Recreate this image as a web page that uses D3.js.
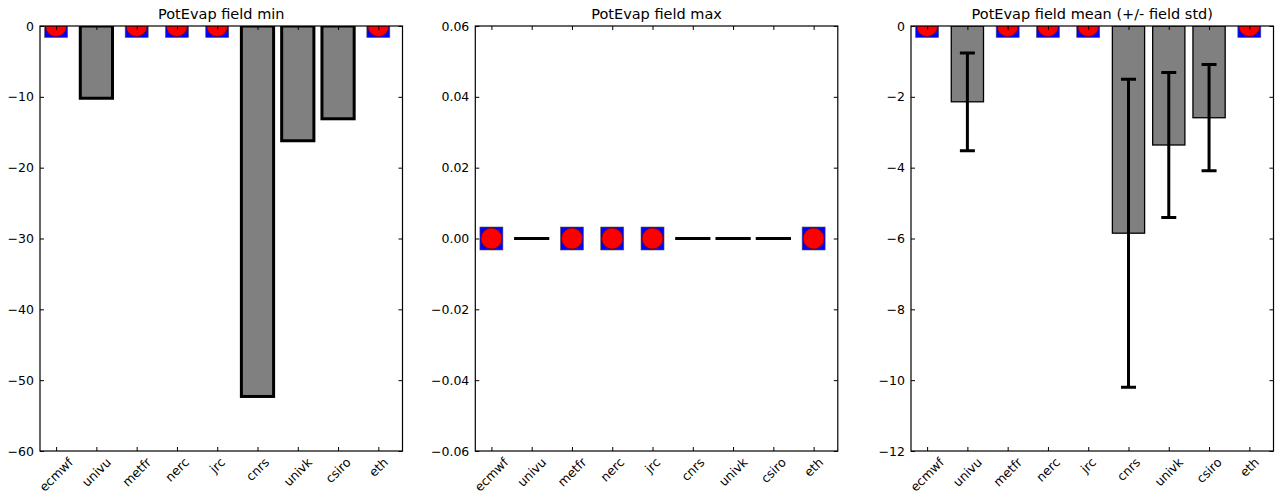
<!DOCTYPE html>
<meta charset="utf-8">
<title>PotEvap field stats</title>
<style>
	body {
		margin: 0;
		background: #fff;
		font-family: 'DejaVu Sans', sans-serif;
	}
	svg text {
		font-family: 'DejaVu Sans', sans-serif;
		font-size: 12.5px;
		fill: #000;
	}
	svg text.title {
		font-size: 14.5px;
	}
</style>
<body>
<div id="chart"></div>
<script src="https://cdn.jsdelivr.net/npm/d3@7"></script>
<script>
// model names on the x axis
var models = ["ecmwf", "univu", "metfr", "nerc", "jrc", "cnrs", "univk", "csiro", "eth"];

// values per model (null = no data, drawn as a marker at 0)
var fieldMin = [null, -10.2, null, null, null, -52.3, -16.2, -13.1, null];
var fieldMax = [null, 0, null, null, null, 0, 0, 0, null];
var fieldMean = [null, -2.14, null, null, null, -5.85, -3.36, -2.59, null];
var fieldStd = [null, 1.38, null, null, null, 4.35, 2.05, 1.5, null];

// y ticks of each panel
var minTicks = [0, -10, -20, -30, -40, -50, -60];
var maxTicks = [0.06, 0.04, 0.02, 0.00, -0.02, -0.04, -0.06];
var meanTicks = [0, -2, -4, -6, -8, -10, -12];

var W = 1276, H = 497;
var plotTop = 26, plotBottom = 451, pw = 362.5;

var svg = d3.select("#chart").append("svg")
	.attr("width", W)
	.attr("height", H);

var panels = [
	{ left: 40, title: "PotEvap field min", values: fieldMin, ticks: minTicks, fmt: d3.format("d"), edge: 3 },
	{ left: 475.3, title: "PotEvap field max", values: fieldMax, ticks: maxTicks, fmt: d3.format(".2f"), edge: 3 },
	{ left: 911, title: "PotEvap field mean (+/- field std)", values: fieldMean, err: fieldStd, ticks: meanTicks, fmt: d3.format("d"), edge: 1.3 }
];

panels.forEach(function (p, k) {
	var x = d3.scaleBand()
		.domain(models)
		.range([p.left, p.left + pw])
		.paddingInner(0.2)
		.paddingOuter(0.1)
		.align(0);

	var y = d3.scaleLinear()
		.domain([d3.max(p.ticks), d3.min(p.ticks)])
		.range([plotTop, plotBottom]);

	var g = svg.append("g");

	// clip to the axes box
	g.append("clipPath").attr("id", "clip" + k)
		.append("rect")
		.attr("x", p.left).attr("y", plotTop)
		.attr("width", pw).attr("height", plotBottom - plotTop);

	var plot = g.append("g").attr("clip-path", "url(#clip" + k + ")");

	var rows = models.map(function (m, i) {
		return { name: m, v: p.values[i], s: p.err ? p.err[i] : null };
	});

	// bars (a zero-height rect is not drawn by svg, so keep a hair of height)
	plot.selectAll(".bar")
		.data(rows.filter(function (d) { return d.v !== null; }))
		.enter().append("rect")
		.attr("class", "bar")
		.attr("x", function (d) { return x(d.name); })
		.attr("y", function (d) { return Math.min(y(0), y(d.v)); })
		.attr("width", x.bandwidth())
		.attr("height", function (d) { return Math.max(0.01, Math.abs(y(d.v) - y(0))); })
		.attr("fill", "#808080")
		.attr("stroke", "#000")
		.attr("stroke-width", p.edge);

	// error bars
	if (p.err) {
		var eb = plot.selectAll(".err")
			.data(rows.filter(function (d) { return d.s !== null; }))
			.enter().append("g")
			.attr("class", "err")
			.attr("stroke", "#000")
			.attr("stroke-width", 3);
		eb.append("line")
			.attr("x1", function (d) { return x(d.name) + x.bandwidth() / 2; })
			.attr("x2", function (d) { return x(d.name) + x.bandwidth() / 2; })
			.attr("y1", function (d) { return y(d.v + d.s); })
			.attr("y2", function (d) { return y(d.v - d.s); });
		[1, -1].forEach(function (sg) {
			eb.append("line")
				.attr("x1", function (d) { return x(d.name) + x.bandwidth() / 2 - 7.5; })
				.attr("x2", function (d) { return x(d.name) + x.bandwidth() / 2 + 7.5; })
				.attr("y1", function (d) { return y(d.v + sg * d.s); })
				.attr("y2", function (d) { return y(d.v + sg * d.s); });
		});
	}

	// markers for missing data
	var miss = plot.selectAll(".miss")
		.data(rows.filter(function (d) { return d.v === null; }))
		.enter().append("g")
		.attr("class", "miss")
		.attr("transform", function (d) {
			return "translate(" + (x(d.name) + x.bandwidth() / 2) + "," + y(0) + ")";
		});
	miss.append("rect")
		.attr("x", -11.5).attr("y", -11.5)
		.attr("width", 23).attr("height", 23)
		.attr("fill", "#0000ff")
		.attr("stroke", "#555")
		.attr("stroke-width", 0.6);
	miss.append("circle")
		.attr("r", 10.5)
		.attr("fill", "#ff0000")
		.attr("stroke", "#600")
		.attr("stroke-width", 0.6);

	// axes, ticks pointing inward
	var yl = g.append("g")
		.attr("transform", "translate(" + p.left + ",0)")
		.call(d3.axisLeft(y).tickValues(p.ticks).tickFormat(p.fmt).tickSizeInner(-4).tickSizeOuter(0).tickPadding(6));
	var yr = g.append("g")
		.attr("transform", "translate(" + (p.left + pw) + ",0)")
		.call(d3.axisRight(y).tickValues(p.ticks).tickFormat("").tickSizeInner(-4).tickSizeOuter(0));
	var xc = d3.scalePoint().domain(models).range([x(models[0]) + x.bandwidth() / 2, x(models[8]) + x.bandwidth() / 2]);
	var xt = g.append("g")
		.attr("transform", "translate(0," + plotTop + ")")
		.call(d3.axisTop(xc).tickFormat("").tickSizeInner(-4).tickSizeOuter(0));
	var xb = g.append("g")
		.attr("transform", "translate(0," + plotBottom + ")")
		.call(d3.axisBottom(xc).tickFormat("").tickSizeInner(-4).tickSizeOuter(0));

	[yl, yr, xt, xb].forEach(function (a) {
		a.select(".domain").remove();
		a.selectAll("line").attr("stroke", "#000");
		a.attr("font-size", null).attr("font-family", null);
	});

	// rotated category labels, centred below each tick
	models.forEach(function (m) {
		var t = g.append("text")
			.attr("text-anchor", "middle")
			.attr("dominant-baseline", "central")
			.text(m);
		var w = t.node().getComputedTextLength();
		var side = (w + 11) / Math.SQRT2;
		var cx = xc(m), cy = plotBottom + 5 + side / 2;
		t.attr("transform", "translate(" + cx + "," + cy + ") rotate(-45)");
	});

	// frame
	g.append("rect")
		.attr("x", p.left).attr("y", plotTop)
		.attr("width", pw).attr("height", plotBottom - plotTop)
		.attr("fill", "none")
		.attr("stroke", "#000")
		.attr("stroke-width", 1.2);

	// title
	g.append("text")
		.attr("class", "title")
		.attr("x", p.left + pw / 2)
		.attr("y", 19)
		.attr("text-anchor", "middle")
		.text(p.title);
});
</script>
</body>
